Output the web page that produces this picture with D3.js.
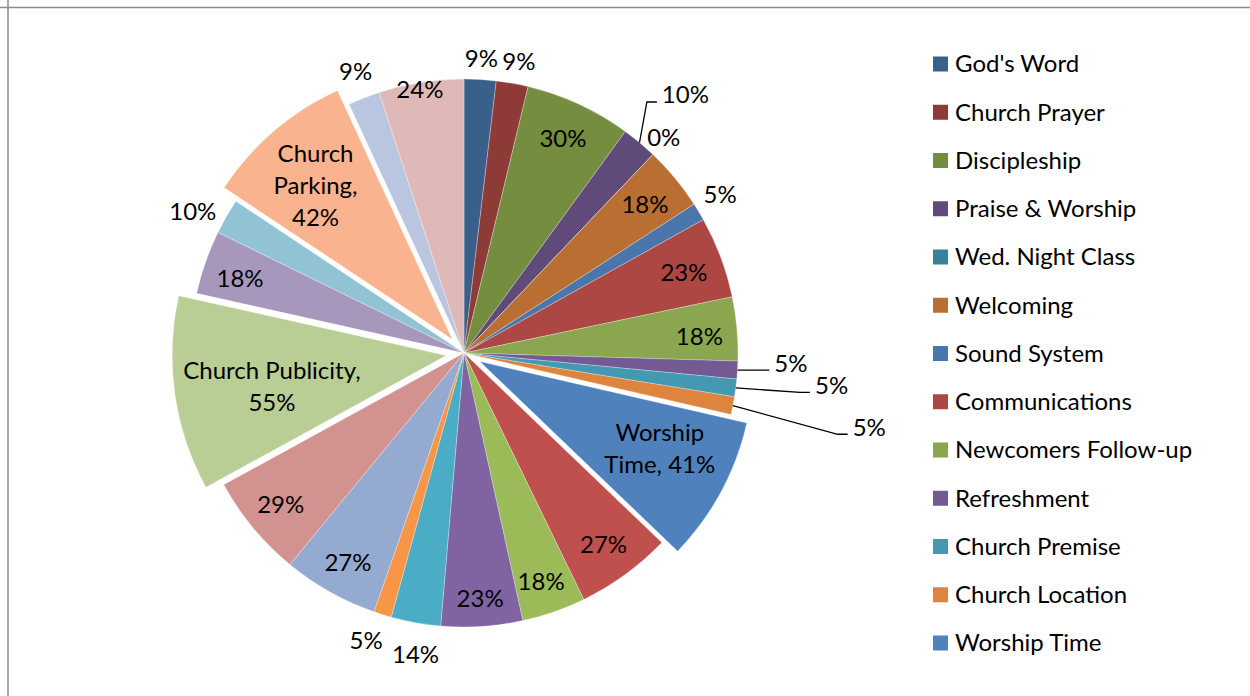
<!DOCTYPE html>
<html>
<head>
<meta charset="utf-8">
<script src="https://cdn.jsdelivr.net/npm/d3@7"></script>
<style>
  html, body { margin: 0; padding: 0; background: #fff; }
  svg { display: block; }
  text { font-family: Lato, "Open Sans", sans-serif; fill: #000; }
</style>
</head>
<body>
<svg id="chart" width="1250" height="696"></svg>
<script>
// ---- Data ----
const legendCategories = ["God's Word", "Church Prayer", "Discipleship", "Praise & Worship",
  "Wed. Night Class", "Welcoming", "Sound System", "Communications", "Newcomers Follow-up",
  "Refreshment", "Church Premise", "Church Location", "Worship Time"];
// slice names shown on the chart (only where visible in the picture)
const sliceNames = ["God's Word", "Church Prayer", "Discipleship", "Praise & Worship",
  "Wed. Night Class", "Welcoming", "Sound System", "Communications", "Newcomers Follow-up",
  "Refreshment", "Church Premise", "Church Location", "Worship Time",
  "", "", "", "", "", "", "", "Church Publicity", "", "", "Church Parking", "", ""];
const sliceValues = [9, 9, 30, 10, 0, 18, 5, 23, 18, 5, 5, 5, 41,
  27, 18, 23, 14, 5, 27, 29, 55, 18, 10, 42, 9, 24];
const showCategoryName = [0,0,0,0,0,0,0,0,0,0,0,0,1, 0,0,0,0,0,0,0,1,0,0,1,0,0];
const exploded =        [0,0,0,0,0,0,0,0,0,0,0,0,1, 0,0,0,0,0,0,0,1,0,0,1,0,0];

// ---- Styles / layout ----
const sliceColors = ["#3A5F8B", "#8E3B38", "#748D3F", "#5F4A7A", "#37839A", "#B96F31",
  "#4A76AB", "#AC4744", "#8AA74F", "#735A93", "#4399B1", "#DD843E", "#4F81BD",
  "#C0504D", "#9BBB59", "#8064A2", "#4BACC6", "#F79646",
  "#95AAD0", "#D29290", "#B9CE95", "#A897BD", "#92C3D4", "#F9B38E", "#BAC6DF", "#DFB9B8"];
// label placement: [mode, radius, angle offset (deg)]
const labelLayout = [
  ["out", 295, 0], ["out", 297, 0.5], ["in", 236, 0], ["lead", 340, 0.8], ["out", 294, -0.8],
  ["in", 234, 0.3], ["out", 301, -0.7], ["in", 234, 0.5], ["in", 236, 1],
  ["lead", 327, -1.8], ["lead", 369, -2.3], ["lead", 412, -0.7],
  ["in", 200, -2.5], ["in", 237, 0], ["in", 241, 0.5], ["in", 246, 0], ["out", 305, -1],
  ["out", 304, 1.5], ["in", 240, -0.4], ["in", 238, 0], ["in", 177, -2],
  ["in", 236, -1], ["out", 306, -2.3], ["in", 206, -1], ["out", 302, 0.4], ["in", 267, -0.5]
];

const W = 1250, H = 696;
const cx = 464, cy = 353, R = 274, explode = 18;
const fontSize = 24, lineH = 32;

const svg = d3.select("#chart");

// frame (left and top edges only visible)
svg.append("line").attr("x1", 8).attr("y1", 0).attr("x2", 8).attr("y2", H)
  .attr("stroke", "#8a8a8a").attr("stroke-width", 1.5);
svg.append("line").attr("x1", 0).attr("y1", 7.5).attr("x2", W).attr("y2", 7.5)
  .attr("stroke", "#8a8a8a").attr("stroke-width", 1.5);

const pie = d3.pie().sort(null).value(d => d).startAngle(0).endAngle(2 * Math.PI);
const arcs = pie(sliceValues);
const arc = d3.arc().innerRadius(0).outerRadius(R);

const polar = (ang, r) => [Math.sin(ang) * r, -Math.cos(ang) * r];

const g = svg.append("g").attr("transform", `translate(${cx},${cy})`);

g.selectAll("path.slice").data(arcs).enter().append("path")
  .attr("class", "slice")
  .attr("d", arc)
  .attr("fill", (d, i) => sliceColors[i])
  .attr("stroke", "#ffffff").attr("stroke-width", 0.4).attr("stroke-opacity", 0.7)
  .attr("transform", (d, i) => {
    if (!exploded[i]) return null;
    const m = (d.startAngle + d.endAngle) / 2;
    const [x, y] = polar(m, explode);
    return `translate(${x},${y})`;
  });

// labels
const lg = g.append("g");
arcs.forEach((d, i) => {
  const [mode, r, off] = labelLayout[i];
  const mid = (d.startAngle + d.endAngle) / 2;
  let [x, y] = polar(mid + off * Math.PI / 180, r);
  if (exploded[i]) { const [ex, ey] = polar(mid, explode); x += ex; y += ey; }
  const pct = sliceValues[i] + "%";
  let lines;
  if (showCategoryName[i]) {
    const name = sliceNames[i];
    if (name === "Worship Time") lines = ["Worship", "Time, " + pct];
    else if (name === "Church Parking") lines = ["Church", "Parking,", pct];
    else lines = [name + ",", pct];
  } else lines = [pct];
  const t = lg.append("text")
    .attr("text-anchor", "middle")
    .attr("font-size", fontSize);
  const n = lines.length;
  lines.forEach((s, k) => {
    t.append("tspan").attr("x", x)
      .attr("y", y + (k - (n - 1) / 2) * lineH)
      .attr("dy", "0.35em").text(s);
  });
  if (mode === "lead") {
    const w = t.node().getComputedTextLength();
    const ax = x - w / 2 - 5, ay = y + 7;
    const [sx, sy] = polar(mid, R);
    lg.append("polyline")
      .attr("points", [[sx, sy], [ax - 10, ay], [ax, ay]].map(p => p.join(",")).join(" "))
      .attr("fill", "none").attr("stroke", "#000").attr("stroke-width", 1.3);
  }
});

// legend
const legend = svg.append("g").attr("transform", "translate(933,64)");
const rowH = 48.25;
legendCategories.forEach((c, i) => {
  const row = legend.append("g").attr("transform", `translate(0,${i * rowH})`);
  row.append("rect").attr("x", 0).attr("y", -7.5).attr("width", 15).attr("height", 15)
    .attr("fill", sliceColors[i]);
  row.append("text").attr("x", 22).attr("y", 0).attr("dy", "0.35em")
    .attr("font-size", fontSize).text(c);
});
</script>
</body>
</html>
